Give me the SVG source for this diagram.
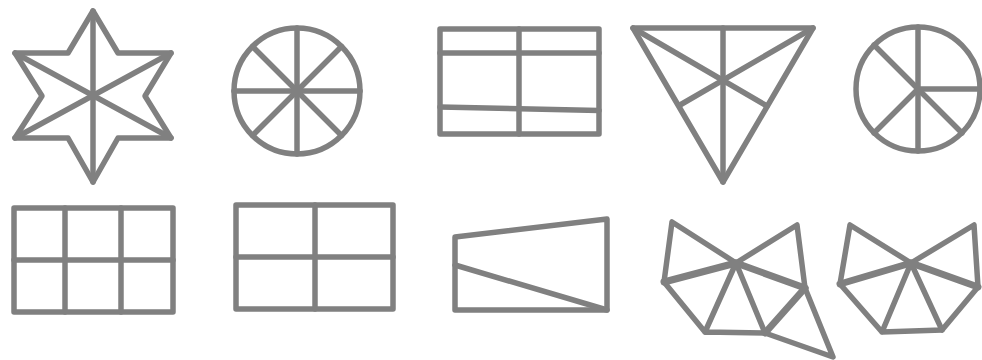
<svg xmlns="http://www.w3.org/2000/svg" width="982" height="360" viewBox="0 0 982 360">
<style>
.s{fill:none;stroke:#808080;stroke-width:5.5;stroke-linejoin:round;stroke-linecap:round}
.t{stroke-width:7}
</style>
<rect width="982" height="360" fill="#fff"/>
<g id="star" class="s">
<polygon points="93,11 118,53 171,53 145,96 171,138 118,138 93,182 68,138 15,138 42,96 15,53 68,53"/>
<line x1="93" y1="11" x2="93" y2="182"/>
<line x1="15" y1="53" x2="171" y2="138"/>
<line x1="171" y1="53" x2="15" y2="138"/>
</g>
<g id="wheel8" class="s">
<circle cx="297" cy="91" r="63"/>
<line x1="297" y1="28" x2="297" y2="154"/>
<line x1="234" y1="91" x2="360" y2="91"/>
<line x1="252.5" y1="46.5" x2="341.5" y2="135.5"/>
<line x1="341.5" y1="46.5" x2="252.5" y2="135.5"/>
</g>
<g id="rect6" class="s">
<rect x="440" y="29" width="159" height="105"/>
<line x1="519" y1="29" x2="519" y2="134"/>
<line x1="440" y1="53" x2="599" y2="53"/>
<line x1="440" y1="107" x2="599" y2="110.5"/>
</g>
<g id="triangle" class="s">
<polygon points="633,28 813,28 723,182"/>
<line x1="723" y1="28" x2="723" y2="182"/>
<line x1="633" y1="28" x2="767" y2="106"/>
<line x1="813" y1="28" x2="680" y2="105"/>
</g>
<g id="wheel5" class="s">
<circle cx="918" cy="89" r="62"/>
<line x1="918" y1="27" x2="918" y2="151"/>
<line x1="918" y1="89" x2="980" y2="89"/>
<line x1="918" y1="89" x2="874" y2="45"/>
<line x1="918" y1="89" x2="874" y2="133"/>
<line x1="918" y1="89" x2="962" y2="133"/>
</g>
<g id="grid6" class="s">
<rect x="14" y="208" width="159" height="104"/>
<line x1="65" y1="208" x2="65" y2="312"/>
<line x1="121" y1="208" x2="121" y2="312"/>
<line x1="14" y1="260" x2="173" y2="260"/>
</g>
<g id="grid4" class="s">
<rect x="236" y="205" width="157" height="104"/>
<line x1="315" y1="205" x2="315" y2="309"/>
<line x1="236" y1="257" x2="393" y2="257"/>
</g>
<g id="trapezoid" class="s">
<polygon points="455,237 607,219 607,310 455,310"/>
<line x1="455" y1="265" x2="607" y2="310"/>
</g>
<g id="fan1" class="s">
<polyline points="736,263 672,222 664,282 705,332 736,263 765,333 705,332"/>
<polyline points="736,263 797,225 805,288 833,357 765,333"/>
<line class="t" x1="664" y1="282" x2="736" y2="263"/>
<line class="t" x1="736" y1="263" x2="805" y2="288"/>
<line class="t" x1="765" y1="333" x2="805" y2="288"/>
</g>
<g id="fan2" class="s">
<polyline points="911,263 850,225 840,284 882,332 911,263 942,330 882,332"/>
<polyline points="911,263 974,225 978,287 942,330"/>
<line class="t" x1="840" y1="284" x2="911" y2="263"/>
<line class="t" x1="911" y1="263" x2="978" y2="287"/>
</g>
</svg>
